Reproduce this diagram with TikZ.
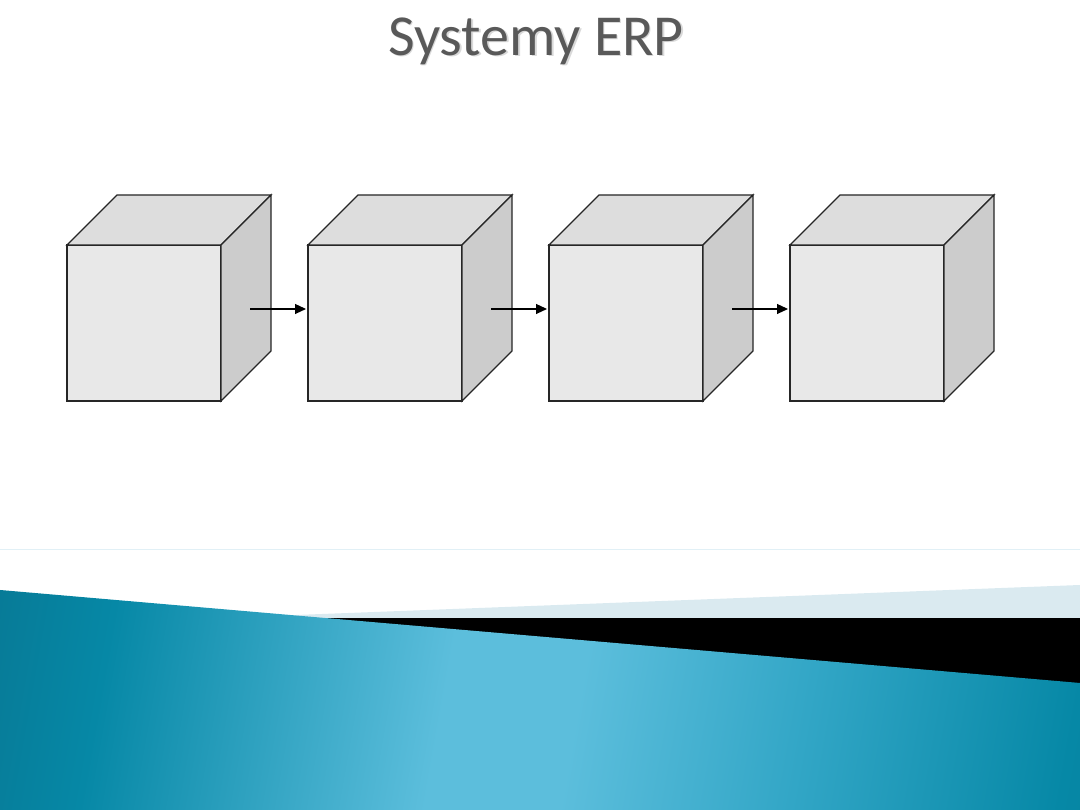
\documentclass[tikz,border=0pt]{standalone}
\usepackage{fontspec}
\setmainfont{Carlito}
\usepackage{tikz}
\usetikzlibrary{arrows.meta,calc}
\definecolor{frontc}{RGB}{232,232,232}
\definecolor{topc}{RGB}{221,221,221}
\definecolor{sidec}{RGB}{204,204,204}
\definecolor{ttlc}{RGB}{89,89,89}
\definecolor{rulec}{RGB}{225,240,246}
\definecolor{wedgec}{RGB}{218,234,240}
\definecolor{tealdark}{RGB}{8,104,130}
\definecolor{tealmid}{RGB}{6,136,166}
\definecolor{tealsoft}{RGB}{50,166,198}
\definecolor{teallight}{RGB}{92,190,220}
\pgfdeclarehorizontalshading{tealband}{100bp}{color(0bp)=(tealdark); color(12bp)=(tealdark);
  color(27bp)=(tealmid); color(45bp)=(teallight); color(52bp)=(teallight); color(64bp)=(tealsoft);
  color(78bp)=(tealmid); color(100bp)=(tealdark)}
\tikzset{
  face/.style={draw=black!85,line width=1.3pt,line join=miter},
  front/.style={face,fill=frontc,minimum width=154pt,minimum height=156pt,
                inner sep=0pt,outer sep=0pt},
  topf/.style={face,fill=topc},
  sidef/.style={face,fill=sidec},
  fl/.style={-{Triangle[length=11pt,width=10pt]},line width=1.1pt,shorten >=2pt},
  ttl/.style={font=\fontsize{58}{64}\selectfont,text=ttlc,inner sep=0pt},
}

\begin{document}
\begin{tikzpicture}[x=1pt,y=1pt]
\useasboundingbox (0,0) rectangle (1080,810);
\draw[rulec,line width=1pt] (0,260) -- (1080,260);
\fill[wedgec] (296,195) -- (1080,225) -- (1080,180) -- (296,180) -- cycle;
\fill[black] (250,192) -- (1080,192) -- (1080,120) -- (250,120) -- cycle;
\shade[shading=tealband,shading angle=-10] (0,220) -- (1080,127) -- (1080,0) -- (0,0) -- cycle;
\node[ttl,text=black!15] at (537.5,767.5) {Systemy ERP};
\node[ttl] (title) at (536,769) {Systemy ERP};
\foreach \i in {1,...,4} {
  \node[front] (c\i) at ({144+241*(\i-1)},487) {};
  \filldraw[topf] (c\i.north west) -- ++(50,50) -- ++(154,0) -- (c\i.north east) -- cycle;
  \filldraw[sidef] (c\i.north east) -- ++(50,50) -- ++(0,-156) -- (c\i.south east) -- cycle;
}
\foreach \i [evaluate=\i as \j using int(\i+1)] in {1,2,3} {
  \coordinate (a\i) at ($(c\i.east)+(29,14)$);
  \draw[fl] (a\i) -- (a\i -| c\j.west);
}
\end{tikzpicture}
\end{document}
